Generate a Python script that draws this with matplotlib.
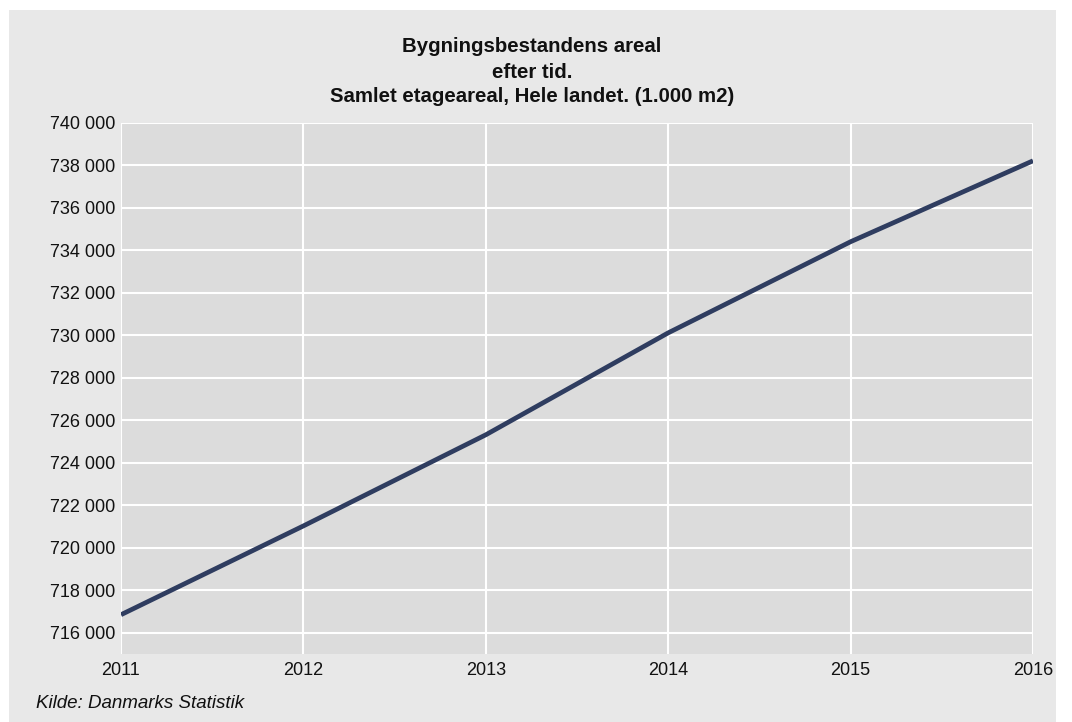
import matplotlib
matplotlib.use("Agg")
import matplotlib.pyplot as plt
from matplotlib.patches import Rectangle
from matplotlib.ticker import FuncFormatter, MultipleLocator

years = [2011, 2012, 2013, 2014, 2015, 2016]
values = [716850, 721030, 725320, 730120, 734410, 738220]
title_lines = ["Bygningsbestandens areal", "efter tid.",
               "Samlet etageareal, Hele landet. (1.000 m2)"]
source = "Kilde: Danmarks Statistik"

plt.rcParams['font.family'] = ['Liberation Sans', 'DejaVu Sans']

W, H = 1072, 722
fig = plt.figure(figsize=(W / 100, H / 100), dpi=100, facecolor='white')
fig.patches.append(Rectangle((9 / W, 0), (1056 - 9) / W, (722 - 10) / H,
                             transform=fig.transFigure, facecolor='#e8e8e8',
                             edgecolor='none', zorder=-10))

left, right, top, bottom = 121, 1033, 123, 654
ax = fig.add_axes([left / W, 1 - bottom / H, (right - left) / W, (bottom - top) / H])
ax.set_zorder(5)
ax.set_facecolor('#dcdcdc')
ax.plot(years, values, color='#2f3d60', lw=3.4, solid_capstyle='butt', zorder=3)
ax.set_xlim(2011, 2016)
ax.set_ylim(715000, 740000)
ax.yaxis.set_major_locator(MultipleLocator(2000))
ax.set_xticks(years)
ax.yaxis.set_major_formatter(FuncFormatter(lambda v, p: f"{int(v):,}".replace(",", " ")))
ax.grid(True, color='white', lw=1.5, zorder=1)
ax.set_axisbelow(True)
for s in ax.spines.values():
    s.set_visible(False)
ax.tick_params(length=0, labelsize=13, colors='#111111', pad=4)
ax.tick_params(axis='x', pad=6)

cx = 532 / W
for txt, y in zip(title_lines, [47, 72, 96]):
    fig.text(cx, 1 - y / H, txt, ha='center', va='center',
             fontsize=14.7, fontweight='bold', color='#111111')
fig.text(36 / W, 1 - 704 / H, source, ha='left', va='center', fontsize=13.5,
         style='italic', color='#111111')

fig.savefig("out.png", dpi=100, facecolor='white')
